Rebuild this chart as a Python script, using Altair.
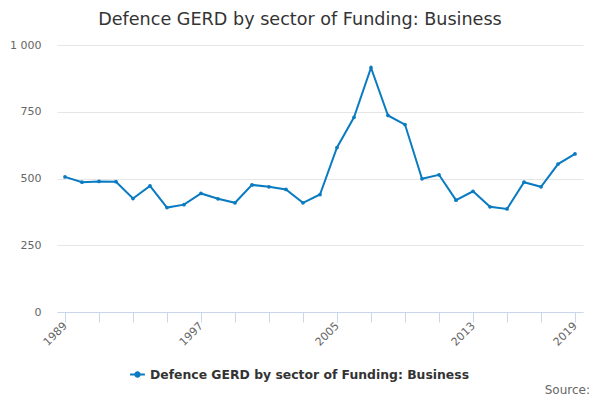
import altair as alt
import pandas as pd

years = list(range(1989, 2020))
values = [506, 486, 489, 488, 425, 472, 391, 402, 444, 424, 409, 476, 469, 459,
          409, 440, 616, 729, 915, 736, 702, 499, 514, 419, 452, 394, 386, 486,
          469, 554, 592]
series_name = "Defence GERD by sector of Funding: Business"
x_ticks = list(range(1989, 2020, 2))
x_labels = [1989, 1997, 2005, 2013, 2019]
y_ticks = [0, 250, 500, 750, 1000]

df = pd.DataFrame({"year": years, "value": values, "series": series_name})

color = "#0a7bc1"
label_test = " || ".join(f"datum.value == {v}" for v in x_labels)

x = alt.X(
    "year:Q",
    scale=alt.Scale(domain=[1988.53, 2019.47], nice=False, zero=False),
    axis=alt.Axis(
        values=x_ticks,
        labelExpr=f"({label_test}) ? datum.value : ''",
        title=None,
        grid=False,
        domainColor="#ccd6eb",
        tickColor="#ccd6eb",
        tickSize=10,
        labelAngle=-45,
        labelAlign="right",
        labelBaseline="middle",
        labelPadding=2,
        labelColor="#666666",
        labelFontSize=11,
        labelFont="DejaVu Sans",
        labelOverlap=False,
        labelFlush=False,
    ),
)
y = alt.Y(
    "value:Q",
    scale=alt.Scale(domain=[0, 1000], nice=False),
    axis=alt.Axis(
        values=y_ticks,
        labelExpr="replace(format(datum.value, ','), ',', ' ')",
        title=None,
        domain=False,
        ticks=False,
        gridColor="#e6e6e6",
        labelPadding=16,
        labelColor="#666666",
        labelFontSize=11,
        labelFont="DejaVu Sans",
    ),
)

legend = alt.Legend(
    title=None,
    orient="none",
    legendX=72,
    legendY=321,
    symbolType="M-1,0H1M-0.3,0a0.3,0.3 0 1,0 0.6,0a0.3,0.3 0 1,0 -0.6,0",
    symbolSize=220,
    symbolStrokeWidth=2,
    labelFont="DejaVu Sans",
    labelFontSize=12.4,
    labelFontWeight="bold",
    labelColor="#333333",
    labelLimit=0,
)

line = alt.Chart(df).mark_line(strokeWidth=2).encode(
    x=x, y=y,
    color=alt.Color("series:N", scale=alt.Scale(range=[color]), legend=legend),
)
points = alt.Chart(df).mark_point(filled=True, size=14, opacity=1).encode(
    x=x, y=y,
    color=alt.Color("series:N", scale=alt.Scale(range=[color]), legend=None),
)
source = alt.Chart(pd.DataFrame({"t": ["Source:"]})).mark_text(
    align="right", baseline="middle", font="DejaVu Sans", fontSize=12, color="#666666"
).encode(text="t:N", x=alt.value(533), y=alt.value(345))

chart = alt.layer(line, points, source).properties(
    width=526,
    height=267,
    padding={"left": 49, "top": 37, "right": 9, "bottom": 84},
    autosize=alt.AutoSizeParams(type="none"),
    title=alt.TitleParams(
        series_name,
        font="DejaVu Sans",
        fontSize=17.6,
        fontWeight="normal",
        color="#333333",
        anchor="middle",
        dx=-20,
        offset=10,
    ),
).configure_view(stroke=None)

chart.save("out.html", embed_options={"renderer": "svg", "actions": False})
